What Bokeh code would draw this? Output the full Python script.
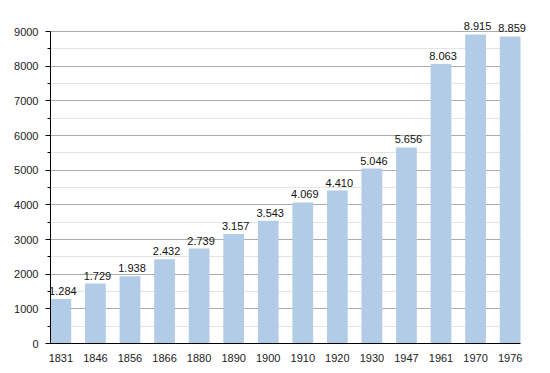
from bokeh.plotting import figure
from bokeh.models import ColumnDataSource, Range1d, FixedTicker, LabelSet
from bokeh.embed import file_html
from bokeh.resources import INLINE
from bokeh.core.properties import value

years = ["1831", "1846", "1856", "1866", "1880", "1890", "1900",
         "1910", "1920", "1930", "1947", "1961", "1970", "1976"]
population = [1284, 1729, 1938, 2432, 2739, 3157, 3543,
              4069, 4410, 5046, 5656, 8063, 8915, 8859]
value_labels = [f"{v:,}".replace(",", ".") for v in population]
y_major_ticks = [0, 1000, 2000, 3000, 4000, 5000, 6000, 7000, 8000, 9000]
y_minor_ticks = [500, 1500, 2500, 3500, 4500, 5500, 6500, 7500, 8500]
y_max = 9000

FONT = "Liberation Sans"
FS = "11px"

# The frame is a bit larger than the drawn axes (top/right) so value labels are not clipped
AXIS_W, AXIS_H = 470, 312        # pixel size of the visible plot area
PAD_TOP, PAD_RIGHT = 20, 8       # extra frame room
frame_w = AXIS_W + PAD_RIGHT
frame_h = AXIS_H + PAD_TOP

x_lo, x_hi = -0.3, len(years) - 0.7
x_pad = (x_hi - x_lo) * PAD_RIGHT / AXIS_W

xs = list(range(len(years)))
src = ColumnDataSource(dict(x=xs, pop=population, lab=value_labels))

p = figure(frame_width=frame_w, frame_height=frame_h,
           min_border_left=50, min_border_top=31 - PAD_TOP,
           min_border_right=max(0, 22 - PAD_RIGHT), min_border_bottom=25,
           x_range=Range1d(x_lo, x_hi + x_pad),
           y_range=Range1d(0, y_max * frame_h / AXIS_H),
           output_backend="svg", toolbar_location=None,
           background_fill_color="white", border_fill_color="white")
p.outline_line_color = None

# grid lines limited to the visible plot area
grid = p.ygrid[0]
if "cross_bounds" in grid.properties():
    grid.cross_bounds = (x_lo, x_hi)
    grid.bounds = (0, y_max)
    grid.grid_line_color = "#ababab"
    grid.minor_grid_line_color = "#e4e4e4"
else:
    grid.grid_line_color = None
    n_min, n_maj = len(y_minor_ticks), len(y_major_ticks)
    p.segment(x0=[x_lo] * n_min, x1=[x_hi] * n_min, y0=y_minor_ticks, y1=y_minor_ticks,
              line_color="#e4e4e4", line_width=1, level="underlay")
    p.segment(x0=[x_lo] * n_maj, x1=[x_hi] * n_maj, y0=y_major_ticks, y1=y_major_ticks,
              line_color="#ababab", line_width=1, level="underlay")
p.xgrid.grid_line_color = None

p.vbar(x="x", top="pop", width=0.6, source=src,
       fill_color="#b2cbe6", line_color=None)

labels = LabelSet(x="x", y="pop", text="lab", source=src,
                  text_align="center", text_baseline="alphabetic",
                  x_offset=2, y_offset=4,
                  text_font=value(FONT), text_font_size=value(FS),
                  text_color="#111111", level="overlay")
p.add_layout(labels)

# y axis
p.yaxis.ticker = FixedTicker(ticks=y_major_ticks, minor_ticks=y_minor_ticks)
p.yaxis.bounds = (0, y_max)
p.yaxis.axis_line_color = "black"
p.yaxis.major_tick_out = 5
p.yaxis.major_tick_in = 0
p.yaxis.minor_tick_out = 3
p.yaxis.minor_tick_in = 0
p.yaxis.major_tick_line_color = "black"
p.yaxis.minor_tick_line_color = "black"
p.yaxis.major_label_standoff = 7
p.yaxis.major_label_text_font = FONT
p.yaxis.major_label_text_font_size = FS
p.yaxis.major_label_text_color = "#222222"

# x axis
p.xaxis.ticker = FixedTicker(ticks=xs)
p.xaxis.bounds = (x_lo, x_hi)
p.xaxis.major_label_overrides = {i: y for i, y in enumerate(years)}
p.xaxis.axis_line_color = "black"
p.xaxis.major_tick_line_color = None
p.xaxis.minor_tick_line_color = None
p.xaxis.major_label_standoff = 4
p.xaxis.major_label_text_font = FONT
p.xaxis.major_label_text_font_size = FS
p.xaxis.major_label_text_color = "#222222"

open("out.html", "w").write(file_html(p, INLINE))
